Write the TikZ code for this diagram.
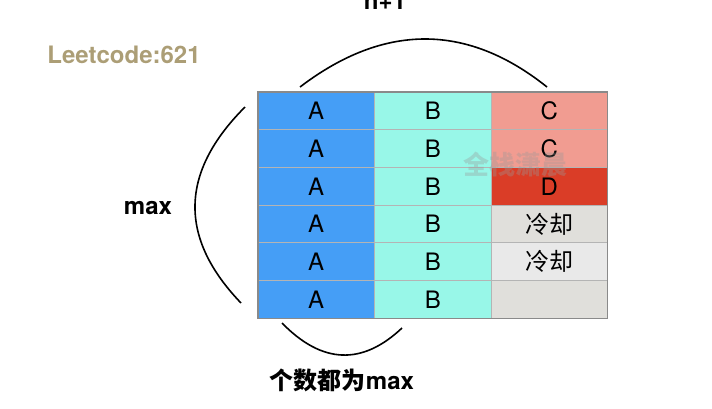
\documentclass[tikz,border=0pt]{standalone}
\usepackage{fontspec}
\setmainfont{TeX Gyre Heros}
\newfontfamily\cjk{Noto Sans CJK SC}
\usetikzlibrary{positioning}

\definecolor{colA}{RGB}{69,158,246}
\definecolor{colB}{RGB}{152,247,232}
\definecolor{colC}{RGB}{241,156,145}
\definecolor{colD}{RGB}{218,61,39}
\definecolor{coolA}{RGB}{224,223,219}
\definecolor{coolB}{RGB}{233,233,233}
\definecolor{gridgray}{RGB}{180,180,180}
\definecolor{framegray}{RGB}{138,138,138}
\definecolor{tan}{RGB}{172,158,118}

\begin{document}
\begin{tikzpicture}[
    x=1pt, y=-1pt,
    cell/.style={rectangle, draw=gridgray, line width=0.8pt, minimum width=116.5pt, minimum height=37.7pt, inner sep=0pt, outer sep=0pt, font=\fontsize{24}{26}\selectfont},
    textlabel/.style={font=\fontsize{24}{27}\selectfont\bfseries},
    brace/.style={draw, line width=1.6pt},
    node distance=0pt
]
    \useasboundingbox (0,0) rectangle (712,408);

    % Column A
    \node [cell, fill=colA, anchor=north west] (a1) at (258,92) {A};
    \node [cell, fill=colA, below=of a1] (a2) {A};
    \node [cell, fill=colA, below=of a2] (a3) {A};
    \node [cell, fill=colA, below=of a3] (a4) {A};
    \node [cell, fill=colA, below=of a4] (a5) {A};
    \node [cell, fill=colA, below=of a5] (a6) {A};

    % Column B
    \node [cell, fill=colB, right=of a1] (b1) {B};
    \node [cell, fill=colB, below=of b1] (b2) {B};
    \node [cell, fill=colB, below=of b2] (b3) {B};
    \node [cell, fill=colB, below=of b3] (b4) {B};
    \node [cell, fill=colB, below=of b4] (b5) {B};
    \node [cell, fill=colB, below=of b5] (b6) {B};

    % Column C
    \node [cell, fill=colC, right=of b1] (c1) {C};
    \node [cell, fill=colC, below=of c1] (c2) {C};
    \node [cell, fill=colD, below=of c2] (c3) {D};
    \node [cell, fill=coolA, below=of c3] (c4) {\cjk 冷却};
    \node [cell, fill=coolB, below=of c4] (c5) {\cjk 冷却};
    \node [cell, fill=coolA, below=of c5] (c6) {};

    % Outer frame
    \draw [framegray, line width=1.2pt] (a1.north west) rectangle (c6.south east);

    % Labels
    \node [textlabel, text=tan] (leet) at (124,55) {Leetcode:621};
    \node [textlabel, anchor=base] (width) at (385,9) {n+1};
    \node [textlabel] (height) at (148,208) {max};
    \node [textlabel] (count) at (342,380) {{\cjk 个数都为}max};

    % Arcs
    \coordinate (topL) at (300,87);
    \coordinate (topR) at (547,87);
    \draw [brace] (topL) .. controls (384,23) and (467,23) .. (topR);
    \coordinate (leftT) at (245,107);
    \coordinate (leftB) at (241,303);
    \draw [brace] (leftT) .. controls (179.7,172.3) and (178.3,237.7) .. (leftB);
    \coordinate (botL) at (282,323);
    \coordinate (botR) at (402,328);
    \draw [brace] (botL) .. controls (322,364) and (362,365.7) .. (botR);

    % Watermark
    \node [font=\cjk\fontsize{26}{28}\selectfont\bfseries, text=gray!80, opacity=0.35] (mark) at (515,165) {全栈潇晨};

\end{tikzpicture}
\end{document}
